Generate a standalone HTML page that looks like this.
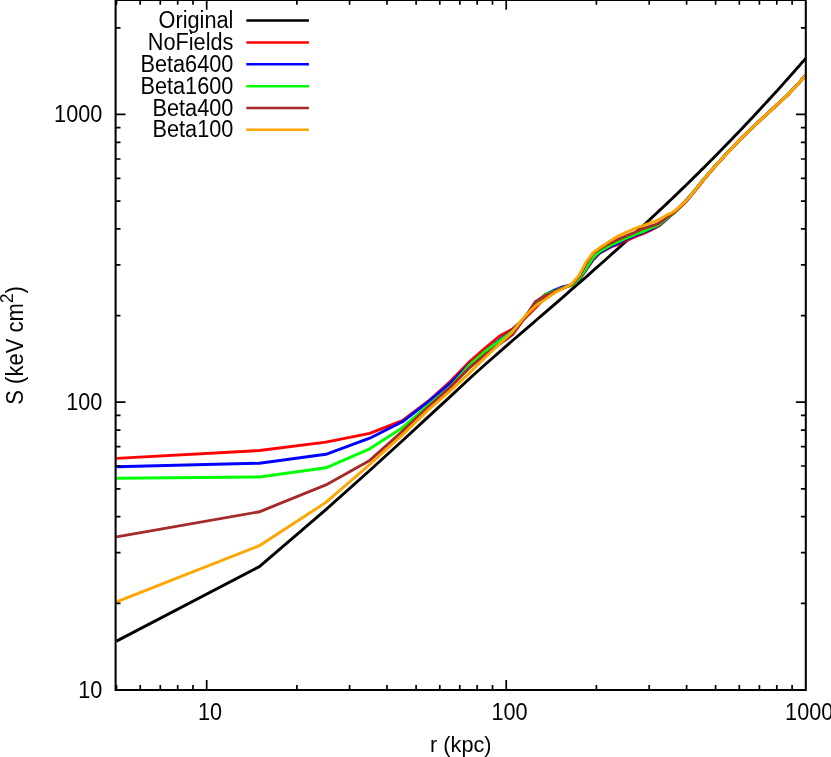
<!DOCTYPE html>
<html><head><meta charset="utf-8"><title>plot</title>
<style>html,body{margin:0;padding:0;background:#fff;}svg{display:block;font-family:"Liberation Sans",sans-serif;}</style></head><body>
<svg width="831" height="757" viewBox="0 0 831 757">
<rect x="0" y="0" width="831" height="757" fill="#fff"/>
<g fill="none" stroke-width="2.9" stroke-linejoin="round" stroke-linecap="butt">
<path d="M116.5,641.1 L259.4,566.6 L325.9,509.6 L369.7,470.5 L402.4,440.8 L428.5,416.6 L450.2,396.6 L468.8,379.2 L485.1,364.5 L499.6,351.8 L512.6,340.5 L524.4,330.3 L535.3,321.0 L545.3,312.3 L554.6,304.3 L563.3,296.8 L571.4,289.7 L579.0,283.1 L586.3,276.8 L593.1,270.7 L599.6,265.0 L605.8,259.5 L611.7,254.2 L617.4,249.2 L622.8,244.3 L628.0,239.6 L633.0,235.0 L637.8,230.6 L642.5,226.3 L647.0,222.2 L651.3,218.1 L655.5,214.2 L659.6,210.4 L663.5,206.7 L667.3,203.1 L671.1,199.5 L674.7,196.1 L678.2,192.7 L681.6,189.4 L684.9,186.2 L688.2,183.0 L691.4,179.9 L694.5,176.8 L697.5,173.9 L700.4,170.9 L703.3,168.1 L706.2,165.2 L708.9,162.5 L711.6,159.7 L714.3,157.1 L716.9,154.4 L719.5,151.8 L722.0,149.3 L724.4,146.8 L726.8,144.3 L729.2,141.9 L731.5,139.5 L733.8,137.1 L736.0,134.8 L738.2,132.5 L740.4,130.2 L742.5,127.9 L744.6,125.7 L746.7,123.5 L748.7,121.4 L750.7,119.3 L752.7,117.2 L754.6,115.1 L756.6,113.0 L758.4,111.0 L760.3,109.0 L762.1,107.0 L763.9,105.1 L765.7,103.1 L767.5,101.2 L769.2,99.3 L770.9,97.5 L772.6,95.6 L774.3,93.8 L775.9,92.0 L777.6,90.2 L779.2,88.4 L780.8,86.6 L782.3,84.9 L783.9,83.1 L785.4,81.4 L786.9,79.7 L788.4,78.1 L789.9,76.4 L791.3,74.8 L792.8,73.1 L794.2,71.5 L795.6,69.9 L797.0,68.3 L798.4,66.8 L799.8,65.2 L801.1,63.6 L802.5,62.1 L803.8,60.6 L805.1,59.1 L805.8,58.3" stroke="#000000"/>
<path d="M116.5,458.4 L259.4,450.5 L325.9,442.1 L369.7,433.3 L402.4,420.6 L428.5,401.0 L450.2,381.5 L468.8,362.4 L485.1,348.0 L499.6,336.0 L512.6,328.9 L524.4,318.6 L535.3,308.0 L545.3,297.5 L554.6,292.0 L563.3,288.0 L571.4,285.2 L579.0,279.8 L586.3,269.7 L593.1,259.9 L599.6,253.3 L605.8,249.8 L611.7,246.7 L617.4,244.6 L622.8,241.9 L628.0,239.8 L633.0,237.6 L637.8,235.6 L642.5,233.9 L647.0,231.9 L651.3,230.0 L655.5,227.8 L659.6,225.4 L663.5,222.2 L667.3,218.6 L671.1,215.4 L674.7,212.3 L678.2,208.9 L681.6,205.4 L684.9,202.3 L688.2,198.7 L691.4,195.0 L694.5,191.2 L697.5,187.5 L700.4,183.8 L703.3,180.2 L706.2,176.7 L708.9,173.4 L711.6,170.3 L714.3,167.3 L716.9,164.4 L719.5,161.5 L722.0,158.8 L724.4,156.1 L726.8,153.5 L729.2,151.0 L731.5,148.5 L733.8,146.1 L736.0,143.8 L738.2,141.5 L740.4,139.3 L742.5,137.2 L744.6,135.1 L746.7,133.1 L748.7,131.1 L750.7,129.2 L752.7,127.3 L754.6,125.5 L756.6,123.7 L758.4,121.9 L760.3,120.2 L762.1,118.5 L763.9,116.8 L765.7,115.2 L767.5,113.6 L769.2,112.0 L770.9,110.4 L772.6,108.8 L774.3,107.3 L775.9,105.7 L777.6,104.2 L779.2,102.7 L780.8,101.3 L782.3,99.8 L783.9,98.4 L785.4,97.0 L786.9,95.6 L788.4,94.1 L789.9,92.6 L791.3,91.1 L792.8,89.5 L794.2,88.0 L795.6,86.5 L797.0,84.9 L798.4,83.4 L799.8,81.9 L801.1,80.3 L802.5,78.8 L803.8,77.4 L805.1,75.9 L805.8,75.2" stroke="#ff0000"/>
<path d="M116.5,466.7 L259.4,463.2 L325.9,454.3 L369.7,438.2 L402.4,421.8 L428.5,401.7 L450.2,383.3 L468.8,365.0 L485.1,351.7 L499.6,339.8 L512.6,330.6 L524.4,318.0 L535.3,303.5 L545.3,294.6 L554.6,290.1 L563.3,286.6 L571.4,285.0 L579.0,279.6 L586.3,269.0 L593.1,258.9 L599.6,252.6 L605.8,249.3 L611.7,246.0 L617.4,243.6 L622.8,240.7 L628.0,238.5 L633.0,236.4 L637.8,234.4 L642.5,232.7 L647.0,230.8 L651.3,228.9 L655.5,226.8 L659.6,224.7 L663.5,221.6 L667.3,218.3 L671.1,215.2 L674.7,212.0 L678.2,208.4 L681.6,204.8 L684.9,201.5 L688.2,197.9 L691.4,194.3 L694.5,190.6 L697.5,186.8 L700.4,183.2 L703.3,179.6 L706.2,176.2 L708.9,172.9 L711.6,169.9 L714.3,166.9 L716.9,164.0 L719.5,161.2 L722.0,158.4 L724.4,155.8 L726.8,153.2 L729.2,150.7 L731.5,148.3 L733.8,146.0 L736.0,143.7 L738.2,141.4 L740.4,139.2 L742.5,137.1 L744.6,135.1 L746.7,133.1 L748.7,131.1 L750.7,129.2 L752.7,127.3 L754.6,125.5 L756.6,123.7 L758.4,121.9 L760.3,120.2 L762.1,118.5 L763.9,116.8 L765.7,115.2 L767.5,113.6 L769.2,112.0 L770.9,110.4 L772.6,108.8 L774.3,107.3 L775.9,105.7 L777.6,104.2 L779.2,102.7 L780.8,101.3 L782.3,99.8 L783.9,98.4 L785.4,97.0 L786.9,95.6 L788.4,94.1 L789.9,92.6 L791.3,91.1 L792.8,89.5 L794.2,88.0 L795.6,86.5 L797.0,84.9 L798.4,83.4 L799.8,81.9 L801.1,80.3 L802.5,78.8 L803.8,77.4 L805.1,75.9 L805.8,75.2" stroke="#0000ff"/>
<path d="M116.5,478.2 L259.4,477.0 L325.9,467.8 L369.7,448.8 L402.4,427.7 L428.5,405.2 L450.2,386.9 L468.8,365.7 L485.1,351.3 L499.6,340.7 L512.6,331.0 L524.4,317.8 L535.3,303.0 L545.3,294.4 L554.6,291.0 L563.3,287.5 L571.4,285.7 L579.0,279.0 L586.3,268.1 L593.1,257.8 L599.6,251.5 L605.8,248.0 L611.7,244.8 L617.4,242.2 L622.8,239.6 L628.0,237.4 L633.0,235.4 L637.8,233.5 L642.5,231.8 L647.0,229.8 L651.3,227.9 L655.5,226.1 L659.6,224.1 L663.5,221.1 L667.3,217.9 L671.1,215.2 L674.7,212.3 L678.2,208.9 L681.6,205.5 L684.9,202.3 L688.2,198.1 L691.4,194.5 L694.5,190.7 L697.5,187.0 L700.4,183.3 L703.3,179.7 L706.2,176.3 L708.9,173.1 L711.6,170.0 L714.3,167.0 L716.9,164.1 L719.5,161.3 L722.0,158.5 L724.4,155.9 L726.8,153.3 L729.2,150.8 L731.5,148.4 L733.8,146.0 L736.0,143.7 L738.2,141.4 L740.4,139.3 L742.5,137.1 L744.6,135.1 L746.7,133.1 L748.7,131.1 L750.7,129.2 L752.7,127.3 L754.6,125.5 L756.6,123.7 L758.4,121.9 L760.3,120.2 L762.1,118.5 L763.9,116.8 L765.7,115.2 L767.5,113.6 L769.2,112.0 L770.9,110.4 L772.6,108.8 L774.3,107.3 L775.9,105.7 L777.6,104.2 L779.2,102.7 L780.8,101.3 L782.3,99.8 L783.9,98.4 L785.4,97.0 L786.9,95.6 L788.4,94.1 L789.9,92.6 L791.3,91.1 L792.8,89.5 L794.2,88.0 L795.6,86.5 L797.0,84.9 L798.4,83.4 L799.8,81.9 L801.1,80.3 L802.5,78.8 L803.8,77.4 L805.1,75.9 L805.8,75.2" stroke="#00ff00"/>
<path d="M116.5,536.9 L259.4,511.8 L325.9,484.9 L369.7,460.4 L402.4,431.4 L428.5,406.9 L450.2,387.3 L468.8,368.4 L485.1,354.7 L499.6,344.2 L512.6,334.7 L524.4,318.3 L535.3,301.7 L545.3,295.6 L554.6,291.5 L563.3,287.8 L571.4,285.0 L579.0,276.8 L586.3,263.6 L593.1,253.5 L599.6,248.9 L605.8,245.5 L611.7,242.4 L617.4,239.6 L622.8,237.3 L628.0,235.2 L633.0,233.2 L637.8,231.0 L642.5,228.9 L647.0,227.4 L651.3,226.0 L655.5,224.6 L659.6,222.8 L663.5,220.1 L667.3,217.0 L671.1,214.7 L674.7,211.9 L678.2,208.9 L681.6,205.9 L684.9,203.0 L688.2,199.0 L691.4,195.3 L694.5,191.5 L697.5,187.7 L700.4,184.0 L703.3,180.4 L706.2,176.9 L708.9,173.6 L711.6,170.5 L714.3,167.4 L716.9,164.5 L719.5,161.6 L722.0,158.9 L724.4,156.2 L726.8,153.6 L729.2,151.0 L731.5,148.6 L733.8,146.2 L736.0,143.8 L738.2,141.5 L740.4,139.3 L742.5,137.2 L744.6,135.1 L746.7,133.1 L748.7,131.1 L750.7,129.2 L752.7,127.3 L754.6,125.5 L756.6,123.7 L758.4,121.9 L760.3,120.2 L762.1,118.5 L763.9,116.8 L765.7,115.2 L767.5,113.6 L769.2,112.0 L770.9,110.4 L772.6,108.8 L774.3,107.3 L775.9,105.7 L777.6,104.2 L779.2,102.7 L780.8,101.3 L782.3,99.8 L783.9,98.4 L785.4,97.0 L786.9,95.6 L788.4,94.1 L789.9,92.6 L791.3,91.1 L792.8,89.5 L794.2,88.0 L795.6,86.5 L797.0,84.9 L798.4,83.4 L799.8,81.9 L801.1,80.3 L802.5,78.8 L803.8,77.4 L805.1,75.9 L805.8,75.2" stroke="#a52a2a"/>
<path d="M116.5,601.9 L259.4,545.7 L325.9,502.4 L369.7,464.5 L402.4,434.9 L428.5,409.6 L450.2,390.9 L468.8,373.8 L485.1,357.5 L499.6,344.0 L512.6,331.6 L524.4,316.8 L535.3,306.1 L545.3,299.4 L554.6,292.8 L563.3,288.5 L571.4,284.2 L579.0,275.4 L586.3,261.8 L593.1,252.7 L599.6,247.8 L605.8,243.9 L611.7,239.9 L617.4,236.6 L622.8,233.8 L628.0,231.6 L633.0,229.4 L637.8,227.3 L642.5,225.8 L647.0,224.2 L651.3,222.7 L655.5,221.2 L659.6,219.3 L663.5,217.1 L667.3,214.8 L671.1,213.1 L674.7,210.8 L678.2,207.8 L681.6,204.8 L684.9,201.9 L688.2,198.4 L691.4,194.7 L694.5,191.0 L697.5,187.2 L700.4,183.5 L703.3,179.9 L706.2,176.5 L708.9,173.2 L711.6,170.1 L714.3,167.1 L716.9,164.2 L719.5,161.4 L722.0,158.6 L724.4,156.0 L726.8,153.4 L729.2,150.9 L731.5,148.4 L733.8,146.1 L736.0,143.7 L738.2,141.5 L740.4,139.3 L742.5,137.2 L744.6,135.1 L746.7,133.1 L748.7,131.1 L750.7,129.2 L752.7,127.3 L754.6,125.5 L756.6,123.7 L758.4,121.9 L760.3,120.2 L762.1,118.5 L763.9,116.8 L765.7,115.2 L767.5,113.6 L769.2,112.0 L770.9,110.4 L772.6,108.8 L774.3,107.3 L775.9,105.7 L777.6,104.2 L779.2,102.7 L780.8,101.3 L782.3,99.8 L783.9,98.4 L785.4,97.0 L786.9,95.6 L788.4,94.1 L789.9,92.6 L791.3,91.1 L792.8,89.5 L794.2,88.0 L795.6,86.5 L797.0,84.9 L798.4,83.4 L799.8,81.9 L801.1,80.3 L802.5,78.8 L803.8,77.4 L805.1,75.9 L805.8,75.2" stroke="#ffa500"/>
</g>
<path d="M116.5,690.0v-4.9M116.5,-0.1v4.9M140.2,690.0v-4.9M140.2,-0.1v4.9M160.3,690.0v-4.9M160.3,-0.1v4.9M177.7,690.0v-4.9M177.7,-0.1v4.9M193.0,690.0v-4.9M193.0,-0.1v4.9M206.7,690.0v-9.9M206.7,-0.1v9.9M296.9,690.0v-4.9M296.9,-0.1v4.9M349.6,690.0v-4.9M349.6,-0.1v4.9M387.0,690.0v-4.9M387.0,-0.1v4.9M416.1,690.0v-4.9M416.1,-0.1v4.9M439.8,690.0v-4.9M439.8,-0.1v4.9M459.8,690.0v-4.9M459.8,-0.1v4.9M477.2,690.0v-4.9M477.2,-0.1v4.9M492.5,690.0v-4.9M492.5,-0.1v4.9M506.2,690.0v-9.9M506.2,-0.1v9.9M596.4,690.0v-4.9M596.4,-0.1v4.9M649.2,690.0v-4.9M649.2,-0.1v4.9M686.6,690.0v-4.9M686.6,-0.1v4.9M715.6,690.0v-4.9M715.6,-0.1v4.9M739.3,690.0v-4.9M739.3,-0.1v4.9M759.4,690.0v-4.9M759.4,-0.1v4.9M776.8,690.0v-4.9M776.8,-0.1v4.9M792.1,690.0v-4.9M792.1,-0.1v4.9M115.6,689.9h9.9M805.8,689.9h-9.9M115.6,603.3h4.9M805.8,603.3h-4.9M115.6,552.6h4.9M805.8,552.6h-4.9M115.6,516.7h4.9M805.8,516.7h-4.9M115.6,488.8h4.9M805.8,488.8h-4.9M115.6,466.0h4.9M805.8,466.0h-4.9M115.6,446.7h4.9M805.8,446.7h-4.9M115.6,430.1h4.9M805.8,430.1h-4.9M115.6,415.3h4.9M805.8,415.3h-4.9M115.6,402.2h9.9M805.8,402.2h-9.9M115.6,315.6h4.9M805.8,315.6h-4.9M115.6,264.9h4.9M805.8,264.9h-4.9M115.6,228.9h4.9M805.8,228.9h-4.9M115.6,201.1h4.9M805.8,201.1h-4.9M115.6,178.3h4.9M805.8,178.3h-4.9M115.6,159.0h4.9M805.8,159.0h-4.9M115.6,142.3h4.9M805.8,142.3h-4.9M115.6,127.6h4.9M805.8,127.6h-4.9M115.6,114.4h9.9M805.8,114.4h-9.9M115.6,27.8h4.9M805.8,27.8h-4.9" fill="none" stroke="#000" stroke-width="1.7"/>
<path d="M115.6,-1.1L115.6,690.0L805.8,690.0L805.8,-1.1M115.6,-0.1L805.8,-0.1" fill="none" stroke="#000" stroke-width="2.05" stroke-linejoin="miter"/>
<g font-size="22" fill="#000" style="opacity:0.999">
<text transform="translate(102.3,697.6) scale(0.985,1.065)" text-anchor="end">10</text>
<text transform="translate(102.3,409.9) scale(0.985,1.065)" text-anchor="end">100</text>
<text transform="translate(102.3,122.2) scale(0.985,1.065)" text-anchor="end">1000</text>
<text transform="translate(210.1,720.0) scale(0.985,1.065)" text-anchor="middle">10</text>
<text transform="translate(509.6,720.0) scale(0.985,1.065)" text-anchor="middle">100</text>
<text transform="translate(809.2,720.0) scale(0.985,1.065)" text-anchor="middle">1000</text>
<text transform="translate(460.8,751.7) scale(0.985,1.0)" text-anchor="middle">r (kpc)</text>
<text transform="translate(23.4,345.4) rotate(-90) scale(1.0,1.05)" text-anchor="middle">S (keV cm<tspan font-size="17.6" dy="-9.5">2</tspan><tspan dy="9.5">)</tspan></text>
<text transform="translate(233.4,28.1) scale(0.988,1.05)" text-anchor="end">Original</text>
<text transform="translate(233.4,50.0) scale(0.988,1.05)" text-anchor="end">NoFields</text>
<text transform="translate(233.4,71.8) scale(0.988,1.05)" text-anchor="end">Beta6400</text>
<text transform="translate(233.4,93.7) scale(0.988,1.05)" text-anchor="end">Beta1600</text>
<text transform="translate(233.4,115.5) scale(0.988,1.05)" text-anchor="end">Beta400</text>
<text transform="translate(233.4,137.3) scale(0.988,1.05)" text-anchor="end">Beta100</text>
</g>
<g stroke-width="2.5" fill="none">
<path d="M246.3,20.6H308.9" stroke="#000000"/>
<path d="M246.3,42.5H308.9" stroke="#ff0000"/>
<path d="M246.3,64.3H308.9" stroke="#0000ff"/>
<path d="M246.3,86.2H308.9" stroke="#00ff00"/>
<path d="M246.3,108.0H308.9" stroke="#a52a2a"/>
<path d="M246.3,129.8H308.9" stroke="#ffa500"/>
</g>
</svg></body></html>
